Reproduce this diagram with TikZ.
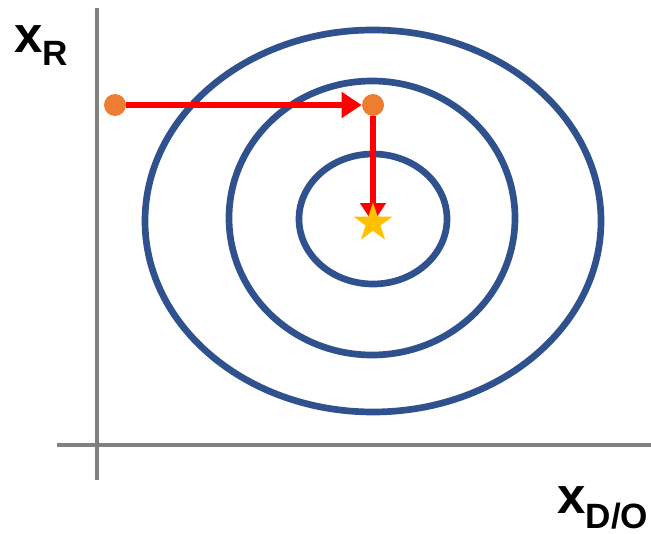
\documentclass[tikz,border=0pt]{standalone}
\usepackage{fontspec}
\setmainfont{Liberation Sans}
\usetikzlibrary{arrows.meta,shapes.geometric,backgrounds}
\definecolor{axisgray}{RGB}{128,128,128}
\definecolor{ringblue}{RGB}{47,82,143}
\definecolor{dotorange}{RGB}{237,125,49}
\definecolor{stargold}{RGB}{255,192,0}
\tikzset{
  axisline/.style={line width=2.8pt, axisgray},
  ring/.style={line width=3.8pt, ringblue},
  dot/.style={circle, fill=dotorange, inner sep=0pt, minimum size=0.44cm},
  goal/.style={star, star points=5, star point ratio=2.618, fill=stargold, inner sep=0pt, minimum size=0.82cm},
  movearrow/.style={-{Triangle[length=0.4cm, width=0.5cm]}, line width=3.7pt, red},
  axislabel/.style={font=\bfseries\fontsize{29}{29}\selectfont, inner sep=0pt, anchor=base west},
}
\newcommand{\sublabel}[2]{\raisebox{#1}{\fontsize{20}{20}\selectfont #2}}

\begin{document}
\begin{tikzpicture}[x=0.02cm, y=-0.02cm]
\useasboundingbox (0,0) rectangle (651,533);
% axes
\coordinate (origin) at (97,445);
\draw[axisline] (97,8) -- (97,480);
\draw[axisline] (57,445) -- (651,445);
\node[axislabel] (ylabel) at (14,53) {x\sublabel{-0.26cm}{R}};
\node[axislabel] (xlabel) at (557,513) {x\sublabel{-0.3cm}{D/O}};
% points
\node[dot] (start) at (115,105) {};
\node[dot] (turn) at (373,105) {};
\node[goal] (optimum) at (373,223) {};
\begin{scope}[on background layer]
  \draw[ring] (373,221) ellipse (228 and 191);
  \draw[ring] (372,218) ellipse (143 and 137);
  \draw[ring] (373,219) ellipse (74 and 65);
  \draw[movearrow] (start) -- (turn);
  \draw[movearrow] (turn) -- (optimum.center);
\end{scope}
\end{tikzpicture}
\end{document}
